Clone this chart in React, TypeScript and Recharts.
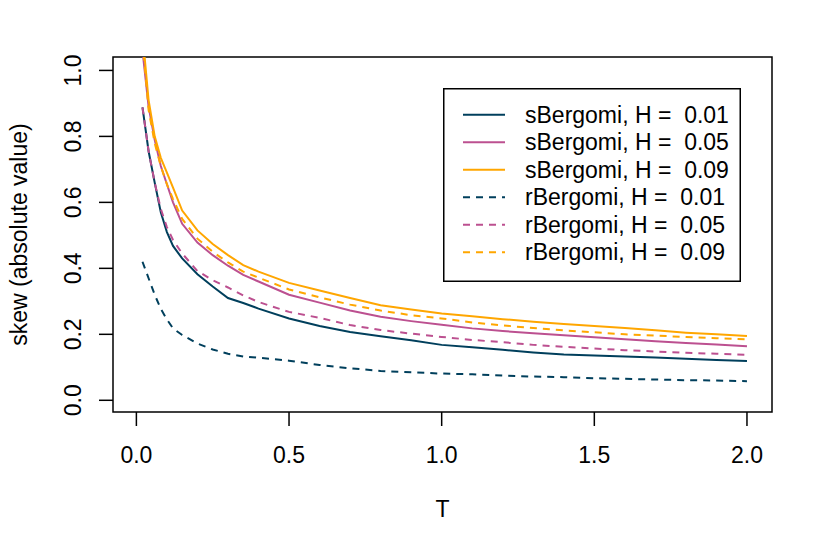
import React from "react";
import {
  LineChart,
  Line,
  XAxis,
  YAxis,
  Legend,
  Label,
  ReferenceArea,
} from "recharts";

// maturities T
const maturities = [
  0.02, 0.04, 0.06, 0.08, 0.1, 0.12, 0.15, 0.2, 0.25, 0.3, 0.35, 0.4, 0.5, 0.6,
  0.7, 0.8, 0.9, 1.0, 1.1, 1.2, 1.3, 1.4, 1.5, 1.6, 1.7, 1.8, 1.9, 2.0,
];

// skew (absolute value)
const sBergomi001 = [
  0.888, 0.755, 0.66, 0.57, 0.51, 0.468, 0.43, 0.382, 0.345, 0.31, 0.295, 0.278,
  0.248, 0.225, 0.207, 0.194, 0.182, 0.168, 0.161, 0.153, 0.145, 0.139, 0.136,
  0.133, 0.13, 0.126, 0.122, 0.119,
];
const sBergomi005 = [
  1.06, 0.89, 0.79, 0.71, 0.655, 0.6, 0.535, 0.478, 0.44, 0.408, 0.38, 0.36,
  0.32, 0.296, 0.272, 0.253, 0.24, 0.229, 0.218, 0.21, 0.203, 0.197, 0.191,
  0.185, 0.179, 0.174, 0.169, 0.164,
];
const sBergomi009 = [
  1.11, 0.91, 0.8, 0.735, 0.69, 0.645, 0.575, 0.515, 0.474, 0.44, 0.41, 0.39,
  0.356, 0.333, 0.31, 0.288, 0.275, 0.263, 0.255, 0.246, 0.238, 0.231, 0.225,
  0.219, 0.212, 0.205, 0.2, 0.195,
];
const rBergomi001 = [
  0.42, 0.37, 0.32, 0.277, 0.245, 0.218, 0.198, 0.172, 0.154, 0.141, 0.133,
  0.129, 0.12, 0.107, 0.097, 0.089, 0.085, 0.081, 0.079, 0.075, 0.072, 0.07,
  0.067, 0.065, 0.063, 0.061, 0.06, 0.058,
];
const rBergomi005 = [
  0.888, 0.755, 0.66, 0.58, 0.525, 0.486, 0.445, 0.392, 0.364, 0.342, 0.318,
  0.298, 0.268, 0.25, 0.228, 0.213, 0.202, 0.192, 0.183, 0.176, 0.168, 0.162,
  0.157, 0.152, 0.148, 0.144, 0.141, 0.138,
];
const rBergomi009 = [
  1.09, 0.88, 0.78, 0.71, 0.655, 0.61, 0.55, 0.49, 0.45, 0.418, 0.39, 0.372,
  0.336, 0.312, 0.29, 0.272, 0.258, 0.248, 0.236, 0.227, 0.219, 0.212, 0.206,
  0.2, 0.196, 0.192, 0.188, 0.185,
];

const xTicks = [0, 0.5, 1, 1.5, 2];
const yTicks = [0, 0.2, 0.4, 0.6, 0.8, 1];
const xDomain = [-0.0766, 2.082];
const yDomain = [-0.0355, 1.0407];

const DARK = "#003f5c";
const PINK = "#bc5090";
const ORANGE = "#ffa600";
const FONT = "'Liberation Sans', Arial, Helvetica, sans-serif";
const FS = 23;

const data = maturities.map((t, i) => ({
  T: t,
  s1: sBergomi001[i],
  s5: sBergomi005[i],
  s9: sBergomi009[i],
  r1: rBergomi001[i],
  r5: rBergomi005[i],
  r9: rBergomi009[i],
}));

const series = [
  { key: "s1", name: "sBergomi, H =  0.01", color: DARK, dash: undefined },
  { key: "s5", name: "sBergomi, H =  0.05", color: PINK, dash: undefined },
  { key: "s9", name: "sBergomi, H =  0.09", color: ORANGE, dash: undefined },
  { key: "r1", name: "rBergomi, H =  0.01", color: DARK, dash: "7 6" },
  { key: "r5", name: "rBergomi, H =  0.05", color: PINK, dash: "7 6" },
  { key: "r9", name: "rBergomi, H =  0.09", color: ORANGE, dash: "7 6" },
];

const XTick = (props: any) => {
  const { x, y, payload } = props;
  return (
    <text x={x} y={y} dy={37} textAnchor="middle" fontSize={FS} fontFamily={FONT} fill="#000">
      {Number(payload.value).toFixed(1)}
    </text>
  );
};

const YTick = (props: any) => {
  const { x, y, payload } = props;
  const tx = x - 17.5;
  return (
    <text
      x={tx}
      y={y}
      textAnchor="middle"
      transform={`rotate(-90 ${tx} ${y})`}
      fontSize={FS}
      fontFamily={FONT}
      fill="#000"
    >
      {Number(payload.value).toFixed(1)}
    </text>
  );
};

const LegendBox = (props: any) => {
  const items = [...(props.payload || [])].sort(
    (a: any, b: any) =>
      series.findIndex((s) => s.key === a.dataKey) -
      series.findIndex((s) => s.key === b.dataKey)
  );
  return (
    <svg width={298} height={194} style={{ display: "block" }}>
      <rect x={0.75} y={0.75} width={296.5} height={192.5} fill="#fff" stroke="#000" strokeWidth={1.5} />
      {items.map((it: any, i: number) => {
        const cy = 26.7 + i * 27.5;
        return (
          <g key={i}>
            <line
              x1={20}
              x2={62}
              y1={cy}
              y2={cy}
              stroke={it.color}
              strokeWidth={2}
              strokeDasharray={it.payload?.strokeDasharray}
            />
            <text
              x={82}
              y={cy + 8.2}
              fontSize={FS}
              fontFamily={FONT}
              fill="#000"
              style={{ whiteSpace: "pre" }}
            >
              {it.value}
            </text>
          </g>
        );
      })}
    </svg>
  );
};

export default function App() {
  return (
    <div style={{ position: "absolute", left: 0, top: 0, width: 830, height: 554, background: "#fff" }}>
      <LineChart
        width={830}
        height={554}
        data={data}
        margin={{ top: 57, right: 58, bottom: 82, left: 0 }}
      >
        <XAxis
          dataKey="T"
          type="number"
          domain={xDomain}
          ticks={xTicks}
          allowDataOverflow
          height={60}
          tickSize={14}
          tickMargin={0}
          tick={<XTick />}
          axisLine={false}
          tickLine={{ stroke: "#000", strokeWidth: 1.5 }}
        >
          <Label
            content={(p: any) => {
              const vb = p.viewBox;
              return (
                <text
                  x={vb.x + vb.width / 2}
                  y={517}
                  textAnchor="middle"
                  fontSize={FS}
                  fontFamily={FONT}
                  fill="#000"
                >
                  T
                </text>
              );
            }}
          />
        </XAxis>
        <YAxis
          type="number"
          domain={yDomain}
          ticks={yTicks}
          allowDataOverflow
          width={113}
          tickSize={14}
          tickMargin={0}
          tick={<YTick />}
          axisLine={false}
          tickLine={{ stroke: "#000", strokeWidth: 1.5 }}
        >
          <Label
            content={(p: any) => {
              const vb = p.viewBox;
              const cy = vb.y + vb.height / 2;
              return (
                <text
                  x={27}
                  y={cy}
                  textAnchor="middle"
                  transform={`rotate(-90 27 ${cy})`}
                  fontSize={FS}
                  fontFamily={FONT}
                  fill="#000"
                >
                  skew (absolute value)
                </text>
              );
            }}
          />
        </YAxis>
        <ReferenceArea
          x1={xDomain[0]}
          x2={xDomain[1]}
          y1={yDomain[0]}
          y2={yDomain[1]}
          fill="none"
          fillOpacity={0}
          stroke="#000"
          strokeWidth={1.5}
          strokeOpacity={1}
          ifOverflow="visible"
        />
        {series.map((s) => (
          <Line
            key={s.key}
            dataKey={s.key}
            name={s.name}
            type="linear"
            stroke={s.color}
            strokeWidth={2}
            strokeDasharray={s.dash}
            dot={false}
            activeDot={false}
            isAnimationActive={false}
          />
        ))}
        <Legend
          layout="horizontal"
          align="center"
          verticalAlign="middle"
          content={<LegendBox />}
          wrapperStyle={{ position: "absolute", left: 443, top: 88, width: 298, height: 194 }}
        />
      </LineChart>
    </div>
  );
}
